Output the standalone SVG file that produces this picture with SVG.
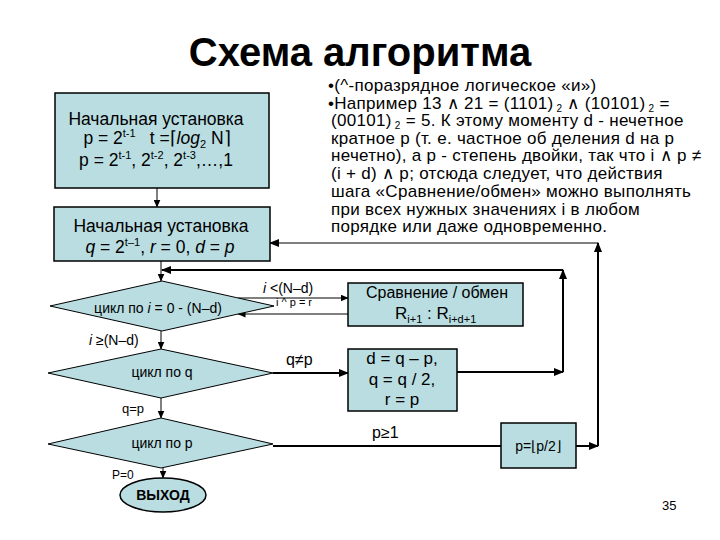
<svg xmlns="http://www.w3.org/2000/svg" width="720" height="540" viewBox="0 0 720 540">
<defs>
<style>
.t{font-family:"Liberation Sans",Arial,sans-serif;fill:#000}
.box{fill:#B9DDE1;stroke:#000;stroke-width:1.5}
.dia{fill:#B9DDE1;stroke:#000;stroke-width:1}
.k{stroke:#000;fill:none;stroke-width:2}
.th{stroke:#000;fill:none;stroke-width:1}
.m{text-anchor:middle}
.i{font-style:italic}
</style>
<marker id="a" markerUnits="userSpaceOnUse" markerWidth="10" markerHeight="8" refX="9" refY="4" orient="auto"><path d="M0,0 L10,4 L0,8 z" fill="#000"/></marker>
<marker id="s" markerUnits="userSpaceOnUse" markerWidth="8" markerHeight="7" refX="7.5" refY="3.5" orient="auto"><path d="M0,0 L8,3.5 L0,7 z" fill="#000"/></marker>
</defs>
<rect width="720" height="540" fill="#fff"/>

<text class="t m" x="360" y="66" font-size="40" font-weight="bold">Схема алгоритма</text>

<g id="note" class="t" font-size="17" letter-spacing="0.3">
<text x="328" y="91">•(^-поразрядное логическое «и»)</text>
<text x="328" y="108.5">•Например 13 ∧ 21 = (1101)<tspan font-size="10" dy="3"> 2</tspan><tspan dy="-3"> ∧  (10101)</tspan><tspan font-size="10" dy="3"> 2</tspan><tspan dy="-3"> =</tspan></text>
<text x="331" y="126">(00101)<tspan font-size="10" dy="3"> 2</tspan><tspan dy="-3"> = 5. К этому моменту d - нечетное</tspan></text>
<text x="331" y="143.5">кратное p (т. е. частное об деления d на p</text>
<text x="331" y="161">нечетно), а p - степень двойки, так что i ∧ p ≠</text>
<text x="331" y="179">(i + d) ∧ p; отсюда следует, что действия</text>
<text x="331" y="197">шага «Сравнение/обмен» можно выполнять</text>
<text x="331" y="214.5">при всех нужных значениях i в любом</text>
<text x="331" y="232">порядке или даже одновременно.</text>
</g>

<g id="connectors">
<line class="th" x1="157" y1="188" x2="157" y2="207" marker-end="url(#s)"/>
<line class="k" x1="576" y1="446" x2="598" y2="446" marker-end="url(#a)"/>
<line class="k" x1="598" y1="446" x2="598" y2="243" marker-end="url(#a)"/>
<line class="th" x1="598" y1="243" x2="270" y2="243" stroke-width="1.5" marker-end="url(#a)"/>
<line class="th" x1="161" y1="261" x2="161" y2="281" marker-end="url(#s)"/>
<line class="k" x1="457" y1="372" x2="563" y2="372" marker-end="url(#a)"/>
<line class="k" x1="563" y1="372" x2="563" y2="270" marker-end="url(#a)"/>
<line class="k" x1="563" y1="270" x2="162" y2="270" stroke-width="2.5" marker-end="url(#a)"/>
<line class="th" x1="238" y1="298" x2="348" y2="298" marker-end="url(#s)"/>
<line class="th" x1="348" y1="314" x2="238" y2="314" marker-end="url(#s)"/>
<line class="th" x1="161" y1="331" x2="161" y2="349" marker-end="url(#s)"/>
<line class="k" x1="273" y1="373" x2="348" y2="373" marker-end="url(#a)"/>
<line class="th" x1="161" y1="398" x2="161" y2="418" marker-end="url(#s)"/>
<line class="k" x1="273" y1="446" x2="501" y2="446"/>
<line class="th" x1="163" y1="468" x2="163" y2="478" marker-end="url(#s)"/>
</g>

<g id="labels" class="t">
<text x="263" y="293" font-size="14"><tspan class="i">i</tspan> &lt;(N–d)</text>
<text x="276" y="306" font-size="11">i ^ p = r</text>
<text x="89" y="345" font-size="14"><tspan class="i">i</tspan> ≥(N–d)</text>
<text x="286" y="365" font-size="16">q≠p</text>
<text x="122" y="413" font-size="13">q=p</text>
<text x="372" y="438" font-size="16">p≥1</text>
<text x="112" y="479" font-size="12">P=0</text>
<text x="662" y="510" font-size="13">35</text>
</g>

<g id="init1">
<rect class="box" x="55" y="93" width="214" height="95"/>
<text class="t m" x="156" y="125" font-size="17.5">Начальная установка</text>
<text class="t m" x="157" y="144" font-size="17.5">p = 2<tspan font-size="11" dy="-7">t-1</tspan><tspan dx="14" dy="7">t =⌈</tspan><tspan class="i">log</tspan><tspan font-size="11" dy="4">2</tspan><tspan dy="-4"> N⌉</tspan></text>
<text class="t m" x="156" y="166" font-size="17.5">p = 2<tspan font-size="11" dy="-7">t-1</tspan><tspan dy="7">, 2</tspan><tspan font-size="11" dy="-7">t-2</tspan><tspan dy="7">, 2</tspan><tspan font-size="11" dy="-7">t-3</tspan><tspan dy="7">,…,1</tspan></text>
</g>

<g id="init2">
<rect class="box" x="54" y="207" width="216" height="54"/>
<text class="t m" x="161" y="232" font-size="17.5">Начальная установка</text>
<text class="t m" x="160" y="253" font-size="17.5"><tspan class="i">q</tspan> = 2<tspan font-size="11" dy="-7">t–1</tspan><tspan dy="7">, </tspan><tspan class="i">r</tspan> = 0, <tspan class="i">d</tspan> = <tspan class="i">p</tspan></text>
</g>

<g id="loopI">
<polygon class="dia" points="50,306 162,281 274,306 162,331"/>
<text class="t m" x="158" y="313" font-size="14">цикл по <tspan class="i">i</tspan> = 0 - (N–d)</text>
</g>

<g id="compare">
<rect class="box" x="348" y="283" width="175" height="43"/>
<text class="t m" x="437" y="298" font-size="16">Сравнение / обмен</text>
<text class="t" x="395" y="319" font-size="17">R<tspan font-size="11" dy="4">i+1</tspan><tspan dy="-4"> : R</tspan><tspan font-size="11" dy="4">i+d+1</tspan></text>
</g>

<g id="loopQ">
<polygon class="dia" points="48,373 161,349 273,373 161,398"/>
<text class="t m" x="162" y="377" font-size="14">цикл по q</text>
</g>

<g id="update">
<rect class="box" x="348" y="349" width="109" height="62"/>
<text class="t m" x="402" y="364" font-size="17">d = q – p,</text>
<text class="t m" x="402" y="385" font-size="17">q = q / 2,</text>
<text class="t m" x="402" y="405" font-size="17">r = p</text>
</g>

<g id="loopP">
<polygon class="dia" points="48,444 161,418 273,444 161,468"/>
<text class="t m" x="162" y="448" font-size="14">цикл по p</text>
</g>

<g id="halve">
<rect class="box" x="501" y="423" width="75" height="45"/>
<text class="t m" x="538" y="451" font-size="14">p=⌊p/2⌋</text>
</g>

<g id="exit">
<ellipse class="box" cx="163" cy="495" rx="43" ry="17" stroke-width="1"/>
<text class="t m" x="163" y="500" font-size="14" font-weight="bold">ВЫХОД</text>
</g>
</svg>
